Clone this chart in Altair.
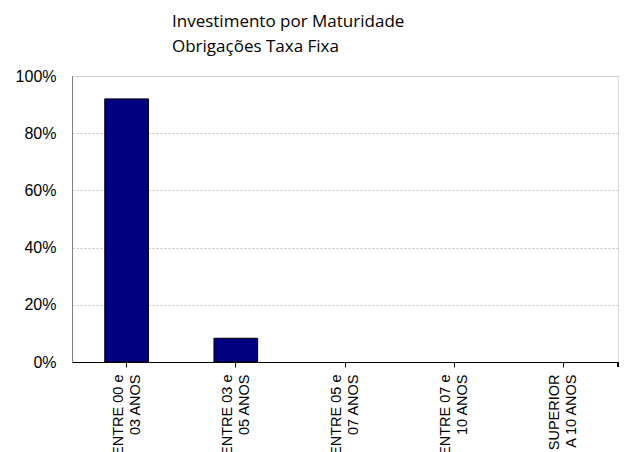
import altair as alt
import pandas as pd

categories = [
    "ENTRE 00 e\n03 ANOS",
    "ENTRE 03 e\n05 ANOS",
    "ENTRE 05 e\n07 ANOS",
    "ENTRE 07 e\n10 ANOS",
    "SUPERIOR\nA 10 ANOS",
]
values = [0.92, 0.083, 0.0, 0.0, 0.0]
y_ticks = [0, 0.2, 0.4, 0.6, 0.8, 1.0]
title_lines = ["Investimento por Maturidade", "Obrigações Taxa Fixa"]

df = pd.DataFrame({"cat": categories, "val": values})

W, H = 546, 286

bars = alt.Chart(df).transform_filter(
    "datum.val > 0"
).mark_bar(
    color="#000080", stroke="#000000", strokeWidth=1
).encode(
    x=alt.X(
        "cat:N",
        sort=categories,
        scale=alt.Scale(domain=categories, paddingInner=0.6, paddingOuter=0.3),
        axis=alt.Axis(
            title=None,
            labelAngle=-90,
            labelAlign="right",
            labelBaseline="middle",
            labelExpr="split(datum.label, '\\n')",
            labelFont="Liberation Sans",
            labelFontSize=14.5,
            labelLineHeight=17,
            labelOffset=-8,
            labelColor="#000000",
            labelPadding=7,
            tickSize=5,
            tickColor="#000000",
            domainColor="#000000",
            grid=False,
            labelOverlap=False,
        ),
    ),
    y=alt.Y(
        "val:Q",
        scale=alt.Scale(domain=[0, 1], nice=False),
        axis=alt.Axis(
            title=None,
            values=y_ticks,
            format=".0%",
            labelFont="Liberation Sans",
            labelFontSize=16,
            labelColor="#000000",
            labelPadding=16,
            tickSize=0,
            domainColor="#808080",
            grid=True,
            gridColor="#c0c0c0",
            gridDash=[2, 2],
            gridWidth=1,
        ),
    ),
)

end_tick = alt.Chart(df).mark_rule(color="#000000").encode(
    x=alt.value(W), y=alt.value(H), y2=alt.value(H + 5)
)

chart = alt.layer(bars, end_tick).properties(
    width=W,
    height=H,
    padding={"left": 72, "top": 76, "right": 7, "bottom": 90},
    autosize=alt.AutoSizeParams(type="none"),
    title=alt.TitleParams(
        text=title_lines,
        anchor="start",
        frame="group",
        dx=100,
        offset=12,
        font="Open Sans",
        fontSize=17,
        fontWeight="normal",
        lineHeight=25,
        color="#000000",
    ),
).configure_view(stroke=None).configure(background="#ffffff")

chart.save("out.html", embed_options={"renderer": "svg", "actions": False})
